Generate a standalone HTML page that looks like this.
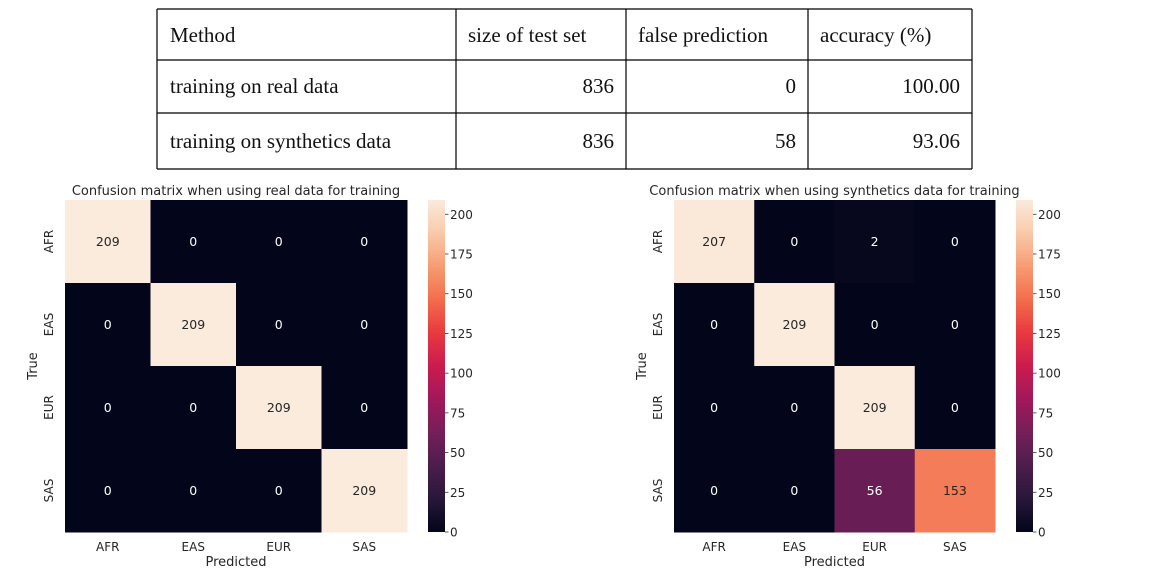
<!DOCTYPE html>
<html><head><meta charset="utf-8"><style>
body{margin:0;background:#fff;width:1156px;height:582px;overflow:hidden}
svg{display:block}
.t{font-family:"Liberation Serif",serif;font-size:21px;fill:#111}
.m{font-family:"DejaVu Sans","Liberation Sans",sans-serif}
</style></head><body>
<svg id="s" width="1156" height="582" xmlns="http://www.w3.org/2000/svg">
<g stroke="#000" stroke-width="1.2">
<line x1="157" y1="9" x2="972" y2="9"/><line x1="157" y1="60" x2="972" y2="60"/>
<line x1="157" y1="113" x2="972" y2="113"/><line x1="157" y1="169" x2="972" y2="169"/>
<line x1="157" y1="9" x2="157" y2="169"/><line x1="456" y1="9" x2="456" y2="169"/>
<line x1="626" y1="9" x2="626" y2="169"/><line x1="808" y1="9" x2="808" y2="169"/>
<line x1="972" y1="9" x2="972" y2="169"/>
</g>
<g>
<text class="t" x="170" y="42">Method</text>
<text class="t" x="468" y="42">size of test set</text>
<text class="t" x="638" y="42">false prediction</text>
<text class="t" x="820" y="42">accuracy (%)</text>
<text class="t" x="170" y="93">training on real data</text>
<text class="t" x="614" y="93" text-anchor="end">836</text>
<text class="t" x="796" y="93" text-anchor="end">0</text>
<text class="t" x="960" y="93" text-anchor="end">100.00</text>
<text class="t" x="170" y="148">training on synthetics data</text>
<text class="t" x="614" y="148" text-anchor="end">836</text>
<text class="t" x="796" y="148" text-anchor="end">58</text>
<text class="t" x="960" y="148" text-anchor="end">93.06</text>
</g>
</svg>
<script>
const categories=["AFR","EAS","EUR","SAS"];
const realValues=[[209,0,0,0],[0,209,0,0],[0,0,209,0],[0,0,0,209]];
const synthValues=[[207,0,2,0],[0,209,0,0],[0,0,209,0],[0,0,56,153]];
const cbTicks=[0,25,50,75,100,125,150,175,200];
const vmin=0,vmax=209;
const stops=[[3,5,26],[40,23,58],[76,29,75],[117,31,88],[161,24,90],[203,27,79],[232,57,63],[243,109,76],[246,156,115],[249,201,169],[250,235,221]];
function rocket(v){let t=Math.max(0,Math.min(1,(v-vmin)/(vmax-vmin)))*10;let i=Math.min(9,Math.floor(t)),f=t-i;const a=stops[i],b=stops[i+1];return `rgb(${a.map((c,k)=>Math.round(c+(b[k]-c)*f)).join(',')})`;}
const NS="http://www.w3.org/2000/svg",svg=document.getElementById('s');
function mk(tag,attrs,parent,txt){const e=document.createElementNS(NS,tag);for(const k in attrs)e.setAttribute(k,attrs[k]);if(txt!==undefined)e.textContent=txt;parent.appendChild(e);return e;}
function heat(vals,x0,x1,y0,y1,cbx,title,name){
 const g=mk('g',{},svg);
 
 
 const n=categories.length,cw=(x1-x0)/n,ch=(y1-y0)/n;
 const xs=i=>x0+i*cw, ys=j=>y0+j*ch;
 vals.forEach((row,j)=>row.forEach((v,i)=>{
  const r=mk('rect',{x:xs(i),y:ys(j),width:cw+0.5,height:ch+0.5,fill:rocket(v)},g);
  
  
  const lum=(v-vmin)/(vmax-vmin);
  const tx=mk('text',{x:xs(i)+cw/2,y:ys(j)+ch/2+4.5,'text-anchor':'middle',class:'m','font-size':'12.5',style:'fill:'+(lum>0.55?'#262626':'#ffffff')},g,String(v));
  
  
 }));
 categories.forEach((c,i)=>{
  const t=mk('text',{x:xs(i)+cw/2,y:y1+19,'text-anchor':'middle',class:'m','font-size':'12',style:'fill:#262626'},g,c);
  
  
  const cy=ys(i)+ch/2;
  const u=mk('text',{x:0,y:0,transform:`translate(${x0-12},${cy}) rotate(-90)`,'text-anchor':'middle',class:'m','font-size':'12',style:'fill:#262626'},g,c);
  
  
 });
 const xt=mk('text',{x:(x0+x1)/2,y:y1+34,'text-anchor':'middle',class:'m','font-size':'13',style:'fill:#262626'},g,'Predicted');
 
 
 const yt=mk('text',{transform:`translate(${x0-28},${(y0+y1)/2}) rotate(-90)`,'text-anchor':'middle',class:'m','font-size':'13',style:'fill:#262626'},g,'True');
 
 
 const tt=mk('text',{x:(x0+x1)/2,y:y0-5,'text-anchor':'middle',class:'m','font-size':'13',style:'fill:#262626'},g,title);
 
 
 const cbw=17,id='gr'+name;
 const defs=mk('defs',{},g);const lg=mk('linearGradient',{id:id,x1:0,y1:1,x2:0,y2:0},defs);
 for(let k=0;k<=20;k++){mk('stop',{offset:k/20,'stop-color':rocket(vmin+(vmax-vmin)*k/20)},lg);}
 const cb=mk('rect',{x:cbx,y:y0,width:cbw,height:y1-y0,fill:`url(#${id})`},g);
 
 
 const cy=v=>y1-(v-vmin)/(vmax-vmin)*(y1-y0);
 cbTicks.forEach(v=>{
  mk('line',{x1:cbx+cbw,x2:cbx+cbw+3.5,y1:cy(v),y2:cy(v),stroke:'#333','stroke-width':0.8},g);
  const l=mk('text',{x:cbx+cbw+5,y:cy(v)+4.5,class:'m','font-size':'12',style:'fill:#262626'},g,String(v));
  
  
 });
}
heat(realValues,65,407,200,532,428,'Confusion matrix when using real data for training','real-data-heatmap');
heat(synthValues,674,995,200,532,1016,'Confusion matrix when using synthetics data for training','synthetic-data-heatmap');
</script>
</body></html>
